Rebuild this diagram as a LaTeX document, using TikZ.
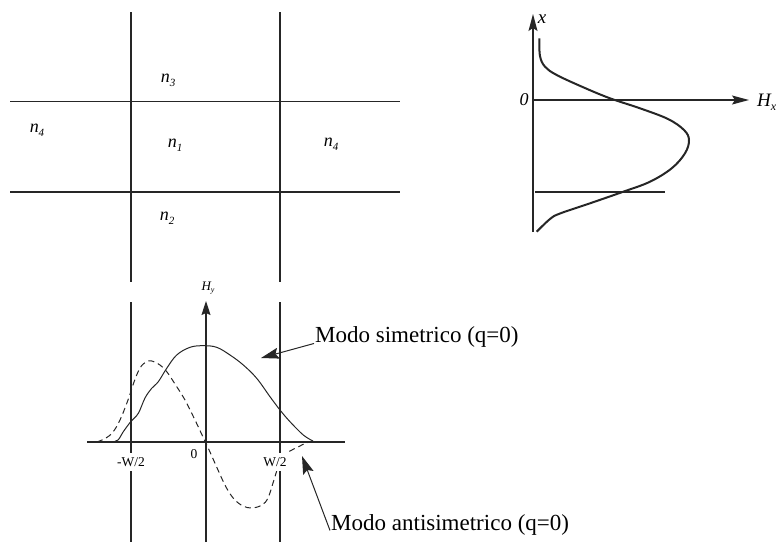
\documentclass[tikz,border=0pt]{standalone}
\usepackage{fontspec}
\setmainfont{Liberation Serif}
\usetikzlibrary{arrows.meta}
\newcommand\nlab[1]{{\fontsize{18}{18}\selectfont\itshape n\raisebox{-4pt}{\fontsize{11}{11}\selectfont #1}}}
\begin{document}
\begin{tikzpicture}[x=1pt,y=-1pt,
  gridline/.style={line width=1.2pt, black!85},
  axisline/.style={line width=1.2pt, black!85},
  bigcurve/.style={line width=2pt, black!85},
  modecurve/.style={line width=1pt, black!85},
  bigarrow/.style={-{Stealth[length=17pt,width=9pt,inset=3pt]}},
  smallarrow/.style={-{Stealth[length=14pt,width=9pt,inset=2pt]}},
  pointer/.style={line width=1pt, black!85, -{Stealth[length=18pt,width=11pt,inset=3pt]}},
  lab/.style={inner sep=0pt},
  bigtext/.style={inner sep=1pt, font=\fontsize{23}{23}\selectfont},
  ticklab/.style={inner xsep=1pt, inner ysep=4pt, fill=white, font=\fontsize{13.5}{13.5}\selectfont},
  axlab/.style={inner sep=0pt, font=\fontsize{19}{19}\selectfont\itshape}]
\useasboundingbox (0,0) rectangle (784,542);

% ---------- top-left: waveguide cross-section ----------
\draw[gridline] (131,12) -- (131,282);
\draw[gridline] (280,12) -- (280,282);
\draw[gridline] (10,101.7) -- (400,101.7);
\draw[gridline] (10,192) -- (400,192);
\node[lab] (n3) at (168,80) {\nlab{3}};
\node[lab] (n4l) at (37,130) {\nlab{4}};
\node[lab] (n1) at (175,145) {\nlab{1}};
\node[lab] (n4r) at (331,144) {\nlab{4}};
\node[lab] (n2) at (167,218) {\nlab{2}};

% ---------- top-right: H_x profile ----------
\coordinate (xbot) at (533,232);
\coordinate (xtop) at (533,14);
\coordinate (hleft) at (533,100);
\coordinate (hright) at (749,100);
\draw[axisline, bigarrow] (xbot) -- (xtop);
\draw[axisline, bigarrow] (hleft) -- (hright);
\node[axlab] (xlab) at (542,19) {x};
\node[axlab, font=\fontsize{18}{18}\selectfont\itshape] (zlab) at (524,100) {0};
\node[axlab, anchor=west] (hxlab) at (757,102) {H\raisebox{-4pt}{\fontsize{12}{12}\selectfont x}};
\draw[axisline] (535,192) -- (665,192);
\draw[bigcurve] plot[smooth, tension=0.6] coordinates {
  (539.3,38.3) (540,56) (545,66.7) (556.7,75) (583.3,87.3) (610,98.3)
  (640,108.3) (668,119) (684,130) (689,140) (685,153.3) (671.7,168.3)
  (650,181.7) (623.3,191.7) (590,203.3) (560,213.5) (550,219) (536.7,231.7)};

% ---------- bottom: mode profiles ----------
\draw[gridline] (131,302) -- (131,542);
\draw[gridline] (280,302) -- (280,542);
\draw[axisline] (87,442) -- (345,442);
\coordinate (ybot) at (206,542);
\coordinate (ytop) at (206,301);
\draw[axisline, smallarrow] (ybot) -- (ytop);
\node[inner sep=0pt, font=\fontsize{13}{13}\selectfont\itshape] (hylab) at (208,288) {H\raisebox{-2.5pt}{\fontsize{8}{8}\selectfont y}};

% symmetric mode (solid)
\draw[modecurve] plot[smooth, tension=0.6] coordinates {
  (112,442) (118,440) (123.3,431.7) (130.7,421.7) (138.3,413.3) (145,398)
  (151.7,388.3) (158.3,381.7) (166.7,368.3) (176.7,355) (190,347.3)
  (203.3,345.7) (216.7,347.3) (230,355) (243.3,365) (256.7,378.3)
  (270,396.7) (280,410) (290,421.7) (303.3,435) (313,441)};

% antisymmetric mode (dashed)
\draw[modecurve, dashed, dash pattern=on 6pt off 4pt] plot[smooth, tension=0.6] coordinates {
  (97,442) (106,438) (113,432) (120,420) (128,400) (134,382) (140,368)
  (146,362) (152,361) (160,365) (167,372) (175,384) (185,400) (195,420)
  (203,437) (210,452) (218,470) (226,487) (234,499) (243,506) (252,508)
  (262,505) (268,498) (273,483) (277,470) (281,458) (290,451) (298,447)
  (306,443) (314,441)};

\node[ticklab] (mw) at (131,462) {-W/2};
\node[ticklab, fill=none] (zero) at (194,454) {0};
\node[ticklab] (pw) at (275,462) {W/2};

% annotations
\node[bigtext, anchor=base west] (sym) at (314,342) {Modo simetrico (q=0)};
\node[bigtext, anchor=base west] (anti) at (330,530) {Modo antisimetrico (q=0)};
\coordinate (symtip) at (261,358);
\coordinate (antitip) at (302,456);
\draw[pointer] ([yshift=-7pt]sym.west) -- (symtip);
\draw[pointer] ([yshift=-6pt]anti.west) -- (antitip);
\end{tikzpicture}
\end{document}
